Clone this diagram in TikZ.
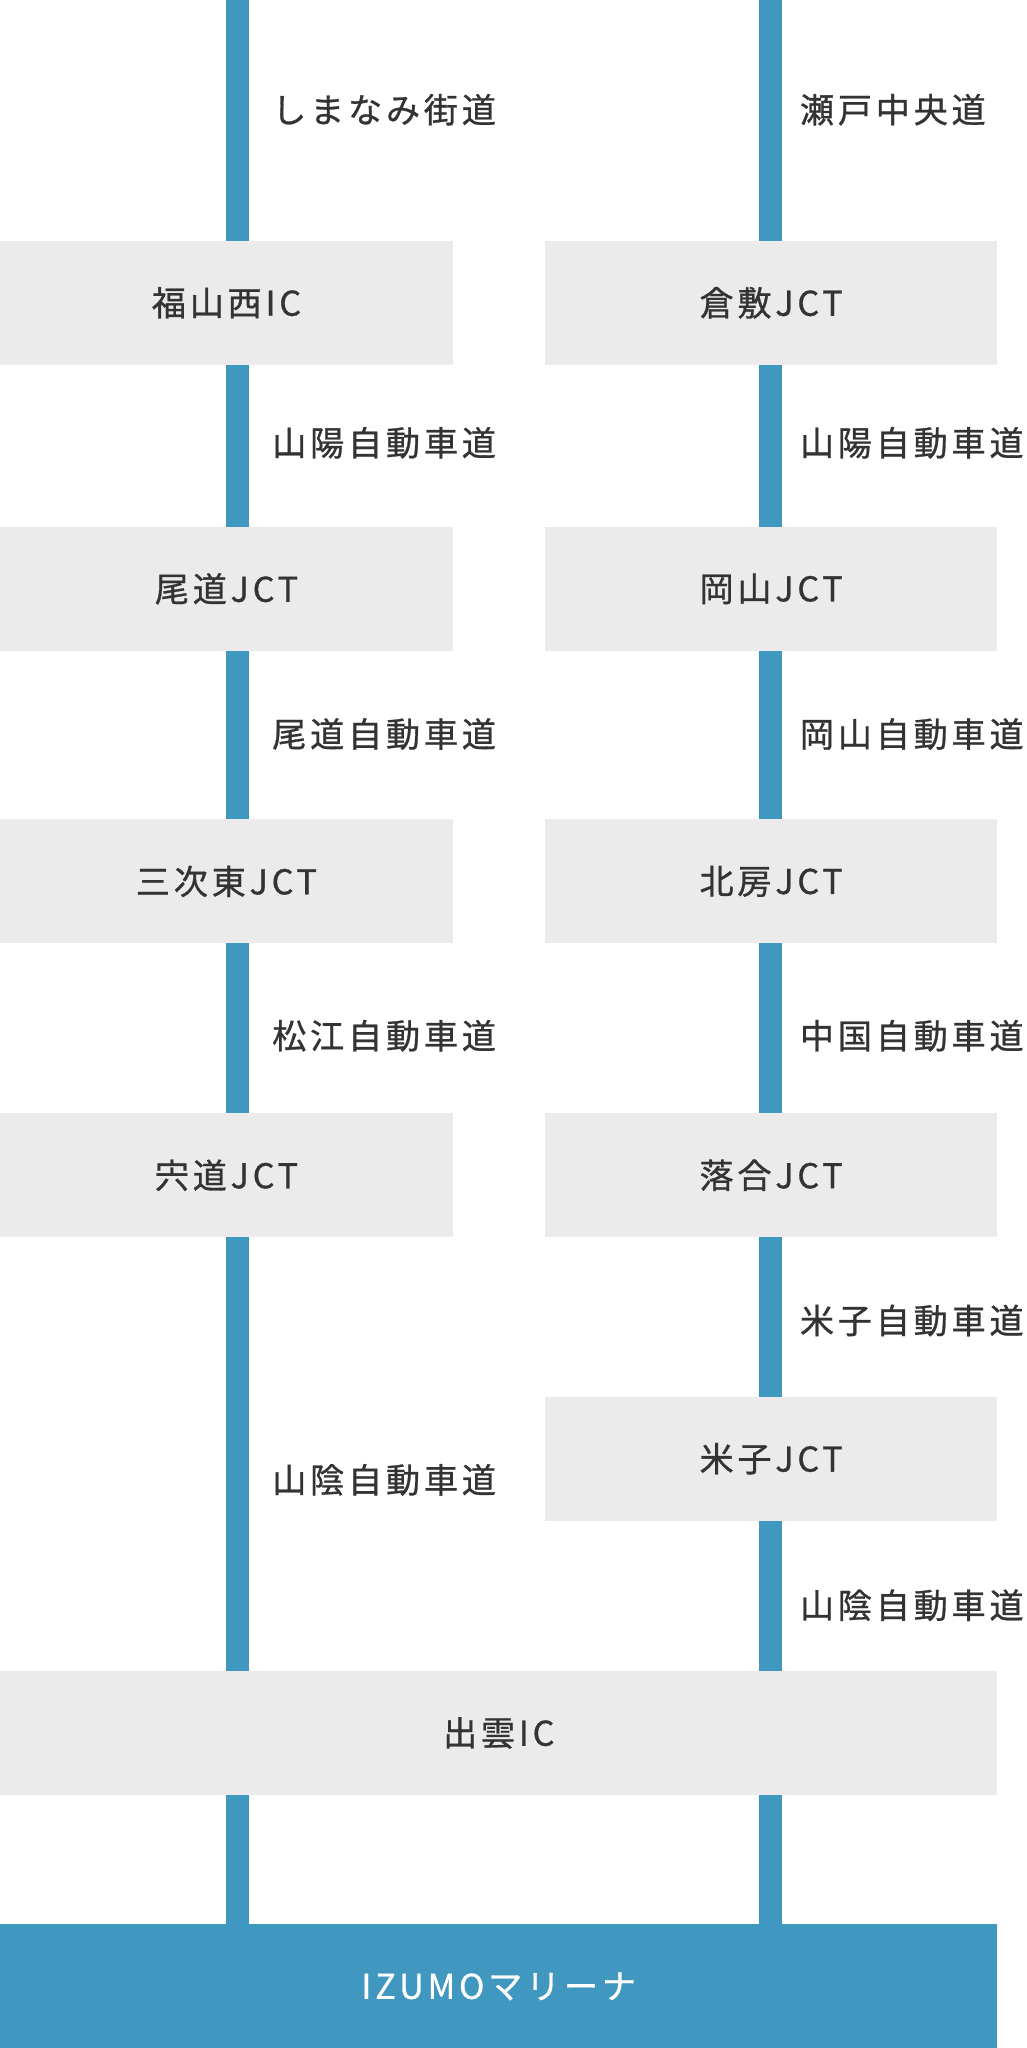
\documentclass[tikz,border=0pt]{standalone}
\usepackage{fontspec}
\setmainfont[LetterSpace=11,FakeBold=0.8]{Noto Sans CJK JP}
\begin{document}
\begin{tikzpicture}[x=0.65pt,y=-0.65pt,
 box/.style={fill=boxgray,draw=none,minimum height=61.75pt,anchor=north west,font=\fontsize{17}{20}\selectfont,text=txt},
 lbl/.style={anchor=west,font=\fontsize{17}{20}\selectfont,text=txt},
 bar/.style={draw=barblue,line width=11.7pt}]
\definecolor{boxgray}{HTML}{EBEBEB}
\definecolor{barblue}{HTML}{4097C0}
\definecolor{txt}{HTML}{333333}
\useasboundingbox (0,0) rectangle (785.6,1568);
\coordinate (lt) at (182,0);
\coordinate (rt) at (590,0);
\coordinate (lb) at (182,1473);
\coordinate (rb) at (590,1473);
\draw[bar] (lt) -- (lb);
\draw[bar] (rt) -- (rb);
\node[box,minimum width=225pt] (a1) at (0,184) {福山西IC};
\node[box,minimum width=225pt] (a2) at (0,403) {尾道JCT};
\node[box,minimum width=225pt] (a3) at (0,627) {三次東JCT};
\node[box,minimum width=225pt] (a4) at (0,852) {宍道JCT};
\node[box,minimum width=225pt] (b1) at (417,184) {倉敷JCT};
\node[box,minimum width=225pt] (b2) at (417,403) {岡山JCT};
\node[box,minimum width=225pt] (b3) at (417,627) {北房JCT};
\node[box,minimum width=225pt] (b4) at (417,852) {落合JCT};
\node[box,minimum width=225pt] (b5) at (417,1069) {米子JCT};
\node[box,minimum width=496pt] (c) at (0,1279) {出雲IC};
\node[box,minimum width=496pt,fill=barblue,text=white] (d) at (0,1473) {IZUMOマリーナ};
\node[lbl] (l0) at (203,84) {しまなみ街道};
\node[lbl] (l1) at (203,339) {山陽自動車道};
\node[lbl] (l2) at (203,562) {尾道自動車道};
\node[lbl] (l3) at (203,793) {松江自動車道};
\node[lbl] (l4) at (203,1133) {山陰自動車道};
\node[lbl] (r0) at (607,84) {瀬戸中央道};
\node[lbl] (r1) at (607,339) {山陽自動車道};
\node[lbl] (r2) at (607,562) {岡山自動車道};
\node[lbl] (r3) at (607,793) {中国自動車道};
\node[lbl] (r4) at (607,1011) {米子自動車道};
\node[lbl] (r5) at (607,1229) {山陰自動車道};
\end{tikzpicture}
\end{document}
